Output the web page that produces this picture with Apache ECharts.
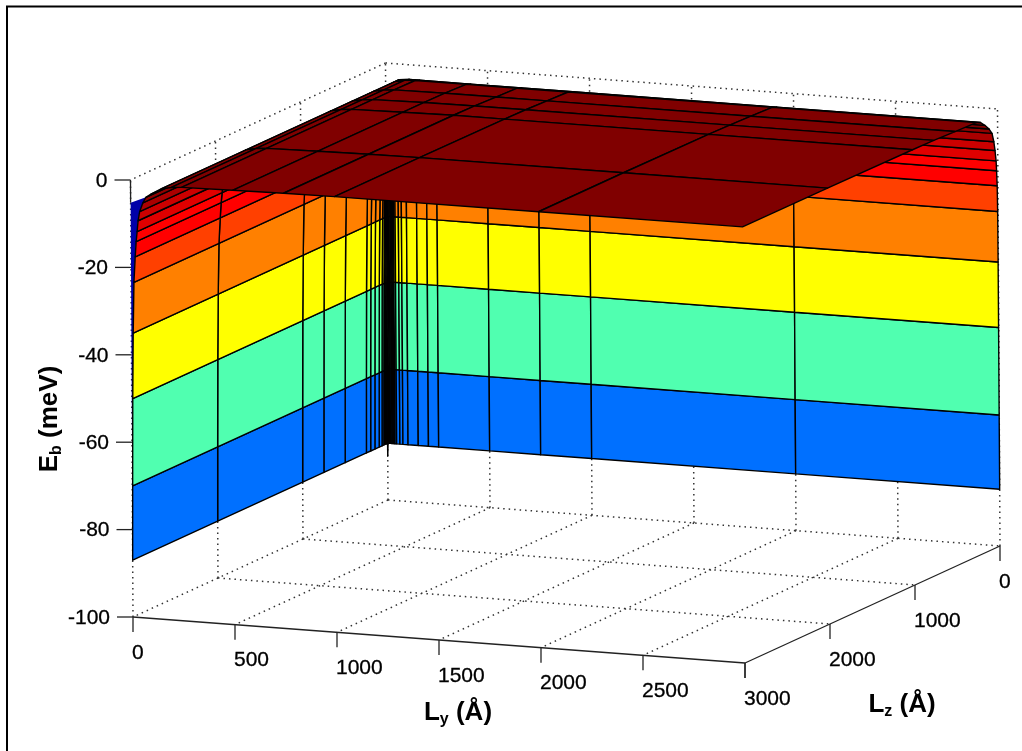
<!DOCTYPE html>
<html>
<head>
<meta charset="utf-8">
<style>html,body{margin:0;padding:0;background:#fff}#chart{width:1022px;height:751px}</style>
<script src="https://cdn.jsdelivr.net/npm/echarts@6/dist/echarts.min.js"></script>
</head>
<body>
<div id="chart"></div>
<script>
// ---------- data ----------
const lyMesh = [0,2,5,9,14,21,26,31,36,44,60,75,100,150,200,250,500,750,1000,2000,3000];
const lzMesh = [0,1,2,3,5,9,15,20,32,45,66,100,150,200,250,500,750,1000,2000,3000];
// rows follow lyMesh, columns follow lzMesh (meV)
const ebMatrix = [
[-90,-87,-87,-87,-87,-87,-87,-87,-87,-87,-87,-87,-87,-87,-87,-87,-87,-87,-87,-87],
[-87,-70,-70,-70,-70,-70,-70,-70,-70,-70,-70,-70,-70,-70,-70,-70,-70,-70,-70,-70],
[-87,-70,-50,-50,-50,-50,-50,-50,-50,-50,-50,-50,-50,-50,-50,-50,-50,-50,-50,-50],
[-87,-70,-50,-35,-35,-35,-35,-35,-35,-35,-35,-35,-35,-35,-35,-35,-35,-35,-35,-35],
[-87,-70,-50,-35,-23.4,-23.4,-23.4,-23.4,-23.4,-23.4,-23.4,-23.4,-23.4,-23.4,-23.4,-23.4,-23.4,-23.4,-23.4,-23.4],
[-87,-70,-50,-35,-23.4,-17.5,-17.5,-17.5,-17.5,-17.5,-17.5,-17.5,-17.5,-17.5,-17.5,-17.5,-17.5,-17.5,-17.5,-17.5],
[-87,-70,-50,-35,-23.4,-17.5,-14,-14,-14,-14,-14,-14,-14,-14,-14,-14,-14,-14,-14,-14],
[-87,-70,-50,-35,-23.4,-17.5,-14,-11.7,-11.7,-11.7,-11.7,-11.7,-11.7,-11.7,-11.7,-11.7,-11.7,-11.7,-11.7,-11.7],
[-87,-70,-50,-35,-23.4,-17.5,-14,-11.7,-9.2,-9.2,-9.2,-9.2,-9.2,-9.2,-9.2,-9.2,-9.2,-9.2,-9.2,-9.2],
[-87,-70,-50,-35,-23.4,-17.5,-14,-11.7,-9.2,-7.1,-7.1,-7.1,-7.1,-7.1,-7.1,-7.1,-7.1,-7.1,-7.1,-7.1],
[-87,-70,-50,-35,-23.4,-17.5,-14,-11.7,-9.2,-7.1,-5,-5,-5,-5,-5,-5,-5,-5,-5,-5],
[-87,-70,-50,-35,-23.4,-17.5,-14,-11.7,-9.2,-7.1,-5,-3.7,-3.7,-3.7,-3.7,-3.7,-3.7,-3.7,-3.7,-3.7],
[-87,-70,-50,-35,-23.4,-17.5,-14,-11.7,-9.2,-7.1,-5,-3.7,-2.9,-2.9,-2.9,-2.9,-2.9,-2.9,-2.9,-2.9],
[-87,-70,-50,-35,-23.4,-17.5,-14,-11.7,-9.2,-7.1,-5,-3.7,-2.4,-1.5,-1.5,-1.5,-1.5,-1.5,-1.5,-1.5],
[-87,-70,-50,-35,-23.4,-17.5,-14,-11.7,-9.2,-7.1,-5,-3.7,-2.4,-1.3,-1,-1,-1,-1,-1,-1],
[-87,-70,-50,-35,-23.4,-17.5,-14,-11.7,-9.2,-7.1,-5,-3.7,-2.4,-1.3,-0.9,-0.8,-0.8,-0.8,-0.8,-0.8],
[-87,-70,-50,-35,-23.4,-17.5,-14,-11.7,-9.2,-7.1,-5,-3.7,-2.4,-1.3,-0.9,-0.7,-0.6,-0.6,-0.6,-0.6],
[-87,-70,-50,-35,-23.4,-17.5,-14,-11.7,-9.2,-7.1,-5,-3.7,-2.4,-1.3,-0.9,-0.7,-0.5,-0.4,-0.4,-0.4],
[-87,-70,-50,-35,-23.4,-17.5,-14,-11.7,-9.2,-7.1,-5,-3.7,-2.4,-1.3,-0.9,-0.7,-0.5,-0.4,-0.3,-0.3],
[-87,-70,-50,-35,-23.4,-17.5,-14,-11.7,-9.2,-7.1,-5,-3.7,-2.4,-1.3,-0.9,-0.7,-0.5,-0.4,-0.25,-0.25],
[-87,-70,-50,-35,-23.4,-17.5,-14,-11.7,-9.2,-7.1,-5,-3.7,-2.4,-1.3,-0.9,-0.7,-0.5,-0.4,-0.25,-0.2]
];
// end cap of the surface at Lz = 3000 (Ly, Eb)
const capLy = [0,0,2,5,9,14,21,26,31,36,44,60,75];
const capEb = [-5.2,-87,-70,-50,-35,-23.4,-17.5,-14,-11.7,-9.2,-7.1,-5,-3.7];
const capLz = 3000;
// colour bands: a cell takes the first colour whose upper limit is above its value
const bandLimits = [-80,-60,-40,-30,-20,-13,-10,-8,-6,-4.5,Infinity];
const bandColors = ['#0070ff','#50ffb0','#ffff00','#ff8000','#ff4000','#ff0000','#e00000','#cc0000','#aa0000','#900000','#800000'];
const capColor = '#0000a8';
const lyTicks = [0,500,1000,1500,2000,2500,3000];
const lzTicks = [0,1000,2000,3000];
const lzLabelled = [0,1000,2000];
const ebTicks = [-100,-80,-60,-40,-20,0];
const ebMin = -100, ebMax = 0, lyMax = 3000, lzMax = 3000;

// ---------- oblique view of the 3D box, in the hidden grid's units ----------
function project(ly, lz, eb) {
  const h = eb - ebMin;
  return [388 + 0.204 * ly - 0.085 * lz - 0.025 * h,
          500 + 0.01533 * ly + 0.039 * lz - 4.37 * h];
}
function bandColor(v) { return bandColors[bandLimits.findIndex(l => v < l)]; }

// surface cells, back corner first so nearer cells paint over farther ones
const cells = [];
for (let i = 0; i < lyMesh.length - 1; i++) {
  for (let j = 0; j < lzMesh.length - 1; j++) cells.push([i, j]);
}
// dotted box grid
const dotted = [];
function seg(a, b) { dotted.push([a, b]); }
lyTicks.forEach(t => {
  if (t > 0 && t < lyMax) seg([t, 0, ebMin], [t, lzMax, ebMin]);
  if (t > 0) seg([t, 0, ebMin], [t, 0, ebMax]);
});
lzTicks.forEach(t => {
  if (t > 0 && t < lzMax) seg([0, t, ebMin], [lyMax, t, ebMin]);
  if (t < lzMax && t > 0) seg([0, t, ebMin], [0, t, ebMax]);
});
seg([0, 0, ebMin], [0, 0, ebMax]);
seg([0, lzMax, ebMin], [0, lzMax, ebMax]);
seg([0, 0, ebMin], [lyMax, 0, ebMin]);
seg([0, 0, ebMin], [0, lzMax, ebMin]);
seg([0, 0, ebMax], [lyMax, 0, ebMax]);
seg([0, 0, ebMax], [0, lzMax, ebMax]);

// solid axes and ticks: [start, end, pixel offset of end]
const solid = [
  [[0, lzMax, ebMin], [lyMax, lzMax, ebMin], [0, 0]],
  [[lyMax, lzMax, ebMin], [lyMax, 0, ebMin], [0, 0]],
  [[0, lzMax, -5.2], [0, lzMax, ebMax], [0, 0]]
];
lyTicks.forEach(t => solid.push([[t, lzMax, ebMin], [t, lzMax, ebMin], [0, 15]]));
lzTicks.forEach(t => solid.push([[lyMax, t, ebMin], [lyMax, t, ebMin], [0, 15]]));
ebTicks.forEach(t => solid.push([[0, lzMax, t], [0, lzMax, t], [-16, 0]]));

// tick labels: [text, 3D anchor, dx, dy, align]
const labels = [];
lyTicks.forEach(t => labels.push([String(t), [t, lzMax, ebMin], -1, 36, 'left']));
lzLabelled.forEach(t => labels.push([String(t), [lyMax, t, ebMin], -1, 36, 'left']));
ebTicks.forEach(t => labels.push([String(t), [0, lzMax, t], -23, 1, 'right']));

const chart = echarts.init(document.getElementById('chart'), null, {renderer: 'canvas'});
const base = {type: 'custom', coordinateSystem: 'cartesian2d', silent: true, clip: false, animation: false};

const titleRich = {
  m: {fontFamily: 'Liberation Sans', fontWeight: 'bold', fontSize: 26, fill: '#000', lineHeight: 30},
  s: {fontFamily: 'Liberation Sans', fontWeight: 'bold', fontSize: 16, fill: '#000', lineHeight: 22, verticalAlign: 'bottom'}
};

chart.setOption({
  backgroundColor: '#fff',
  animation: false,
  grid: {left: 0, right: 0, top: 0, bottom: 0},
  xAxis: {type: 'value', min: 0, max: 1022, show: false},
  yAxis: {type: 'value', min: 0, max: 751, inverse: true, show: false},
  tooltip: {show: false},
  series: [
    Object.assign({}, base, {
      name: 'grid',
      data: dotted.map((_, k) => [k]),
      renderItem(params, api) {
        const d = dotted[params.dataIndex];
        const a = api.coord(project(...d[0])), b = api.coord(project(...d[1]));
        return {type: 'line', shape: {x1: a[0], y1: a[1], x2: b[0], y2: b[1]},
          style: {stroke: '#333', lineWidth: 1.5, lineDash: [1.5, 4], fill: null}};
      }
    }),
    Object.assign({}, base, {
      name: 'end cap',
      data: [[0]],
      renderItem(params, api) {
        const pts = capLy.map((ly, k) => api.coord(project(ly, capLz, capEb[k])));
        return {type: 'polygon', shape: {points: pts}, style: {fill: capColor, stroke: null}};
      }
    }),
    Object.assign({}, base, {
      name: 'Eb',
      data: cells,
      renderItem(params, api) {
        const [i, j] = cells[params.dataIndex];
        const pts = [[i, j], [i + 1, j], [i + 1, j + 1], [i, j + 1]].map(
          ([a, b]) => api.coord(project(lyMesh[a], lzMesh[b], ebMatrix[a][b])));
        return {type: 'polygon', shape: {points: pts},
          style: {fill: bandColor(ebMatrix[i][j]), stroke: '#000', lineWidth: 1.4, lineJoin: 'round'}};
      }
    }),
    Object.assign({}, base, {
      name: 'axes',
      data: solid.map((_, k) => [k]),
      renderItem(params, api) {
        const d = solid[params.dataIndex];
        const a = api.coord(project(...d[0])), b = api.coord(project(...d[1]));
        return {type: 'line', shape: {x1: a[0], y1: a[1], x2: b[0] + d[2][0], y2: b[1] + d[2][1]},
          style: {stroke: '#222', lineWidth: 1.3, fill: null}};
      }
    }),
    Object.assign({}, base, {
      name: 'labels',
      data: labels.map((_, k) => [k]),
      renderItem(params, api) {
        const d = labels[params.dataIndex];
        const a = api.coord(project(...d[1]));
        return {type: 'text', x: a[0] + d[2], y: a[1] + d[3],
          style: {text: d[0], fontFamily: 'Liberation Sans', fontSize: 21, fill: '#000', stroke: '#000', lineWidth: 0.3, align: d[4], verticalAlign: 'middle'}};
      }
    })
  ],
  graphic: {elements: [
    {type: 'polyline', silent: true, z: 10, shape: {points: [[7, 751], [7, 6.5], [1022, 6.5]]},
     style: {stroke: '#000', lineWidth: 2, fill: null}},
    {type: 'text', silent: true, z: 10, x: 50, y: 419, rotation: Math.PI / 2,
     style: {text: '{m|E}{s|b}{m| (meV)}', rich: titleRich, align: 'center', verticalAlign: 'middle'}},
    {type: 'text', silent: true, z: 10, x: 458, y: 713,
     style: {text: '{m|L}{s|y}{m| (Å)}', rich: titleRich, align: 'center', verticalAlign: 'middle'}},
    {type: 'text', silent: true, z: 10, x: 902, y: 705,
     style: {text: '{m|L}{s|z}{m| (Å)}', rich: titleRich, align: 'center', verticalAlign: 'middle'}}
  ]}
});
</script>
</body>
</html>
